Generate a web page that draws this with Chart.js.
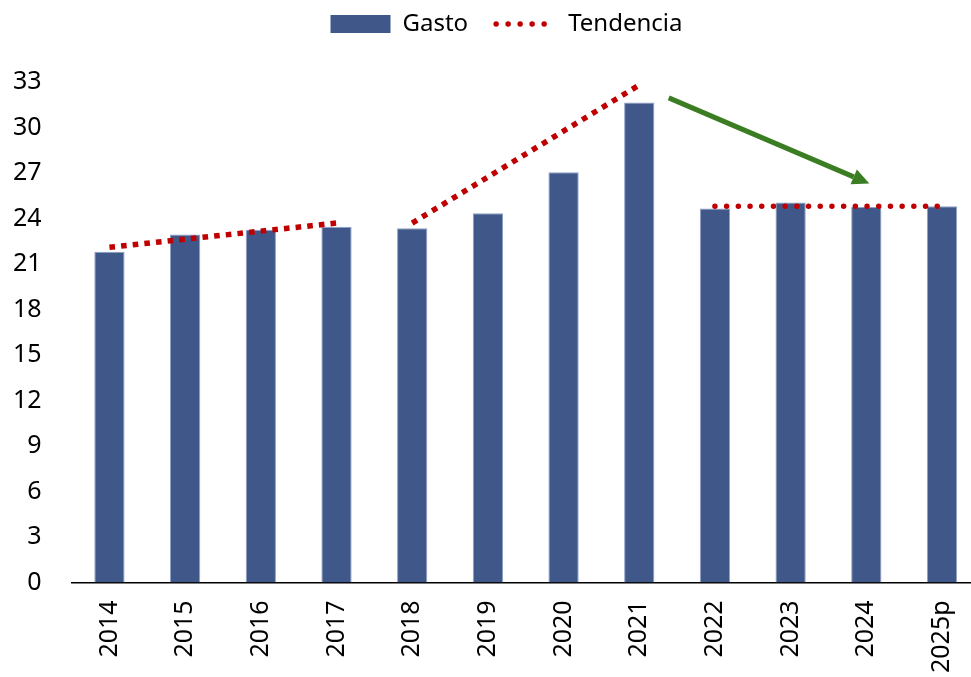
<!DOCTYPE html>
<html>
<head>
<meta charset="utf-8">
<script src="https://cdn.jsdelivr.net/npm/chart.js@4.4.1/dist/chart.umd.min.js"></script>
<style>
    html, body { margin: 0; padding: 0; background: #fff; overflow: hidden; }
    .Gasto { position: relative; width: 990px; height: 677px; }
</style>
</head>
<body>
<div class="Gasto"><canvas id="Gasto"></canvas></div>
<script>
var years = ["2014", "2015", "2016", "2017", "2018", "2019", "2020", "2021", "2022", "2023", "2024", "2025p"];
var gasto = [21.8, 22.95, 23.25, 23.45, 23.35, 24.35, 27.05, 31.65, 24.65, 25.05, 24.75, 24.8];
var tendencia1 = [22.1, null, null, 23.7, null, null, null, null, null, null, null, null];
var tendencia2 = [null, null, null, null, 23.7, null, null, 32.8, null, null, null, null];
var tendencia3 = [null, null, null, null, null, null, null, null, 24.8, null, null, 24.8];
var yTicks = [0, 3, 6, 9, 12, 15, 18, 21, 24, 27, 30, 33];
// flecha: [indice de categoria, valor]
var flechaDesde = [7.39, 31.95];
var flechaHasta = [10.04, 26.3];

var azul = "#3f5789";
var rojo = "#c00000";
var verde = "#3b7d23";
var fuente = "'Noto Sans', 'Open Sans', sans-serif";

// flecha verde
var flecha = {
    id: 'flecha',
    afterDatasetsDraw: function (chart) {
        var ctx = chart.ctx;
        var x = chart.scales.x, y = chart.scales.y;
        var x1 = x.getPixelForValue(flechaDesde[0]), y1 = y.getPixelForValue(flechaDesde[1]);
        var x2 = x.getPixelForValue(flechaHasta[0]), y2 = y.getPixelForValue(flechaHasta[1]);
        var ang = Math.atan2(y2 - y1, x2 - x1);
        var largo = 17, ancho = 8;
        var bx = x2 - Math.cos(ang) * largo, by = y2 - Math.sin(ang) * largo;
        ctx.save();
        ctx.strokeStyle = verde;
        ctx.fillStyle = verde;
        ctx.lineWidth = 5;
        ctx.beginPath();
        ctx.moveTo(x1, y1);
        ctx.lineTo(bx, by);
        ctx.stroke();
        ctx.beginPath();
        ctx.moveTo(x2, y2);
        ctx.lineTo(bx + Math.sin(ang) * ancho, by - Math.cos(ang) * ancho);
        ctx.lineTo(bx - Math.sin(ang) * ancho, by + Math.cos(ang) * ancho);
        ctx.closePath();
        ctx.fill();
        ctx.restore();
    }
};

// colocar la leyenda arriba, un poco a la derecha
var moverLeyenda = {
    id: 'moverLeyenda',
    afterLayout: function (chart) {
        chart.legend.left += 20;
        chart.legend.right += 20;
        chart.legend.top -= 36;
        chart.legend.bottom -= 36;
    }
};

function lineaTendencia(data, redondo) {
    return {
        type: 'line',
        label: 'Tendencia',
        data: data,
        borderColor: rojo,
        backgroundColor: rojo,
        borderWidth: 5.5,
        borderDash: redondo ? [0, 11.7] : [5.6, 6.1],
        borderCapStyle: redondo ? 'round' : 'butt',
        pointRadius: 0,
        tension: 0,
        fill: false,
        spanGaps: true,
        order: 0
    };
}

var ctx = document.getElementById('Gasto').getContext('2d');

var graphic = new Chart(ctx, {
    type: 'bar',
    data: {
        labels: years,
        datasets: [
            {
                label: "Gasto",
                data: gasto,
                backgroundColor: azul,
                borderColor: "#8fa1c7",
                borderWidth: 1,
                barPercentage: 0.4,
                categoryPercentage: 1,
                order: 1
            },
            lineaTendencia(tendencia1, false),
            lineaTendencia(tendencia2, false),
            lineaTendencia(tendencia3, true)
        ]
    },
    options: {
        responsive: true,
        maintainAspectRatio: false,
        animation: false,
        layout: { padding: { left: -17, top: -18, right: 0, bottom: -14 } },
        plugins: {
            tooltip: { enabled: false },
            legend: {
                display: true,
                position: 'top',
                labels: {
                    color: '#000',
                    font: { family: fuente, size: 24 },
                    usePointStyle: true,
                    pointStyleWidth: 60,
                    boxHeight: 18,
                    padding: 28,
                    generateLabels: function (chart) {
                        return [
                            { text: 'Gasto', fillStyle: azul, strokeStyle: azul, lineWidth: 0, pointStyle: 'rect', datasetIndex: 0, hidden: false, fontColor: '#000' },
                            { text: 'Tendencia', fillStyle: 'rgba(0,0,0,0)', strokeStyle: rojo, lineWidth: 5.5, lineCap: 'round', lineDash: [0, 12], pointStyle: 'line', datasetIndex: 1, hidden: false, fontColor: '#000' }
                        ];
                    }
                }
            }
        },
        scales: {
            x: {
                grid: { display: false, drawTicks: false },
                border: { display: true, color: '#000', width: 1.5 },
                ticks: {
                    color: '#000',
                    font: { family: fuente, size: 25 },
                    maxRotation: 90,
                    minRotation: 90,
                    padding: 18,
                    autoSkip: false
                }
            },
            y: {
                min: 0,
                max: 33,
                grid: { display: false, drawTicks: false },
                border: { display: false },
                afterBuildTicks: function (axis) {
                    axis.ticks = yTicks.map(function (v) { return { value: v }; });
                },
                afterFit: function (axis) {
                    axis.paddingTop = 82;
                },
                ticks: {
                    color: '#000',
                    font: { family: fuente, size: 25 },
                    padding: 30
                }
            }
        }
    },
    plugins: [flecha, moverLeyenda]
});
</script>
</body>
</html>
